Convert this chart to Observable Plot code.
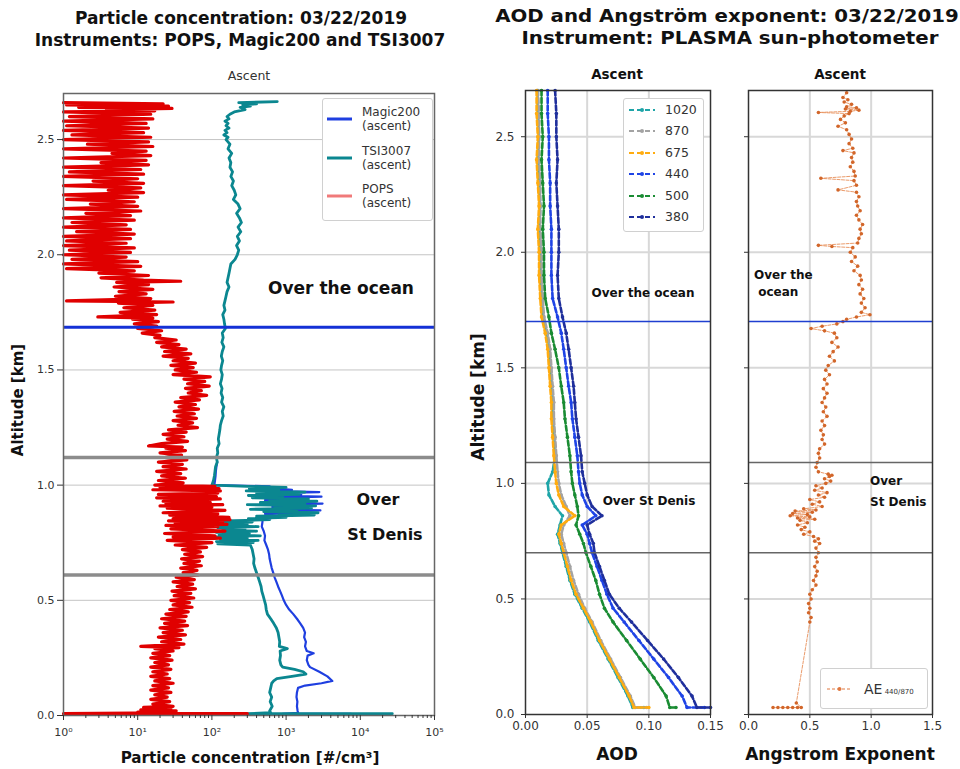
<!DOCTYPE html>
<html><head><meta charset="utf-8">
<script src="https://cdn.jsdelivr.net/npm/d3@7"></script>
<script src="https://cdn.jsdelivr.net/npm/@observablehq/plot@0.6"></script>
<style>
body{margin:0;background:#fff;}
#wrap{position:relative;width:960px;height:769px;overflow:hidden;background:#fff;}
#wrap svg{position:absolute;top:0;overflow:visible;}
.t{position:absolute;white-space:nowrap;z-index:5;line-height:1;font-family:"DejaVu Sans",sans-serif;color:#111;}
.lg{position:absolute;z-index:5;background:#fff;border:1px solid #d0d0d0;border-radius:3px;}
</style></head><body><div id="wrap"></div>
<script>
// ---------- axes / ticks ----------
const altitudeTicks = [0, 0.5, 1.0, 1.5, 2.0, 2.5];
const altitudeTickLabels = ["0.0","0.5","1.0","1.5","2.0","2.5"];
const concTicks = [1, 10, 100, 1000, 10000, 100000];
const concTickLabels = ["10⁰","10¹","10²","10³","10⁴","10⁵"];
const aodTicks = [0, 0.05, 0.10, 0.15];
const aodTickLabels = ["0.00","0.05","0.10","0.15"];
const aeTicks = [0, 0.5, 1.0, 1.5];
const aeTickLabels = ["0.0","0.5","1.0","1.5"];

// ---------- zone limits (km) ----------
const oceanLimitConc = [1.685];
const stDenisLimitsConc = [1.12, 0.61];
const oceanLimitAOD = [1.70];
const stDenisLimitsAOD = [1.09, 0.70];

// ---------- particle concentration profiles [altitude km, #/cm3] ----------
const popsProfile = [
[2.66,1.0],[2.655,22],[2.65,1.1],[2.645,26],[2.64,1.6],[2.635,29],[2.63,3.8],[2.625,17],[2.62,1.0],[2.61,15],
[2.60,1.2],[2.59,16],[2.58,1.0],[2.57,13],[2.56,1.1],[2.55,14],[2.54,1.0],[2.53,12],[2.52,1.3],[2.51,15],
[2.50,1.0],[2.49,14],[2.48,2.1],[2.47,16],[2.46,1.0],[2.45,13],[2.44,4.5],[2.43,15],[2.42,1.0],[2.41,13],
[2.40,3.2],[2.39,14],[2.38,1.0],[2.37,11],[2.36,1.2],[2.35,12],[2.34,1.0],[2.33,10],[2.32,2.5],[2.31,12],
[2.30,1.0],[2.29,11],[2.28,4.0],[2.27,12],[2.26,1.0],[2.25,10],[2.24,1.1],[2.23,9],[2.22,2.3],[2.21,10],
[2.20,1.0],[2.19,11],[2.18,2.0],[2.17,8],[2.16,1.0],[2.15,9],[2.14,1.3],[2.13,7],[2.12,1.0],[2.11,8],
[2.10,1.5],[2.09,9],[2.08,1.0],[2.07,8],[2.06,1.1],[2.05,7],[2.04,1.0],[2.03,9],[2.02,1.2],[2.01,8],
[2.00,1.0],[1.99,7],[1.98,1.3],[1.97,10],[1.96,1.0],[1.95,11],[1.94,1.1],[1.93,9],[1.92,3.0],[1.91,14],
[1.90,3.2],[1.89,12],[1.885,38],[1.88,5.2],[1.87,14],[1.86,4.8],[1.85,16],[1.84,5.6],[1.83,13],[1.82,5.0],
[1.81,15],[1.80,1.1],[1.795,30],[1.79,5.5],[1.78,16],[1.77,6.5],[1.76,17],[1.75,5.8],[1.74,18],[1.73,2.9],
[1.725,16],[1.72,8.5],[1.71,19],[1.70,9],[1.69,18],[1.68,10],[1.67,21],[1.66,11.5],[1.65,20],[1.64,17],
[1.63,33],[1.62,18],[1.61,36],[1.60,21],[1.59,45],[1.58,23],[1.57,52],[1.56,22],[1.55,48],[1.54,30],
[1.53,60],[1.52,28],[1.51,56],[1.50,32],[1.49,62],[1.48,30],[1.47,95],[1.46,42],[1.45,80],[1.44,47],
[1.43,92],[1.42,44],[1.41,72],[1.40,48],[1.39,85],[1.38,38],[1.37,68],[1.36,32],[1.35,60],[1.34,36],
[1.33,66],[1.32,31],[1.31,58],[1.30,34],[1.29,62],[1.28,30],[1.27,55],[1.26,35],[1.25,64],[1.24,26],
[1.23,45],[1.22,22],[1.21,42],[1.20,25],[1.19,47],[1.18,21],[1.17,14],[1.165,40],[1.16,24],[1.15,44],
[1.14,20],[1.13,39],[1.12,23],[1.11,46],[1.10,19],[1.09,40],[1.08,22],[1.07,45],[1.06,18],[1.05,38],
[1.04,21],[1.03,44],[1.02,19],[1.01,41],[1.00,17],[0.995,110],[0.99,20],[0.985,125],[0.98,16],[0.975,130],
[0.97,60],[0.965,120],[0.96,19],[0.955,75],[0.95,115],[0.945,18],[0.94,130],[0.93,22],[0.925,95],[0.92,24],
[0.915,140],[0.91,20],[0.905,100],[0.90,25],[0.89,150],[0.88,22],[0.875,120],[0.87,27],[0.86,170],[0.855,30],
[0.85,175],[0.845,26],[0.84,140],[0.835,32],[0.83,160],[0.825,24],[0.82,120],[0.81,28],[0.80,150],[0.79,23],
[0.78,110],[0.775,30],[0.77,130],[0.76,25],[0.75,100],[0.74,32],[0.73,85],[0.72,40],[0.71,70],[0.70,43],
[0.69,75],[0.68,39],[0.67,68],[0.66,42],[0.65,72],[0.64,38],[0.63,63],[0.62,41],[0.61,66],[0.60,33],
[0.59,58],[0.58,30],[0.57,55],[0.56,34],[0.55,60],[0.54,29],[0.53,52],[0.52,31],[0.51,57],[0.50,28],
[0.49,50],[0.48,30],[0.47,54],[0.46,27],[0.45,48],[0.44,24],[0.43,45],[0.42,21],[0.41,43],[0.40,23],
[0.39,47],[0.38,20],[0.37,40],[0.36,22],[0.35,44],[0.34,19],[0.33,38],[0.32,21],[0.31,42],[0.30,11],
[0.295,36],[0.29,17],[0.28,30],[0.27,16],[0.26,27],[0.25,15],[0.24,29],[0.23,17],[0.22,26],[0.21,15],
[0.20,28],[0.19,16],[0.18,25],[0.17,15],[0.16,27],[0.15,17],[0.14,30],[0.13,16],[0.12,26],[0.11,15],
[0.10,28],[0.09,17],[0.08,25],[0.07,15],[0.06,27],[0.05,16],[0.04,30],[0.035,12],[0.03,28],[0.025,11],
[0.02,33],[0.015,10],[0.012,26],[0.008,1],[0.008,300]
];
const tsiProfile = [
[2.665,760],[2.66,230],[2.655,400],[2.65,260],[2.645,330],[2.64,240],[2.63,280],[2.62,200],[2.61,175],[2.60,160],
[2.59,170],[2.58,150],[2.57,165],[2.56,155],[2.55,170],[2.54,150],[2.53,160],[2.52,145],[2.51,165],[2.50,155],
[2.48,175],[2.46,165],[2.44,185],[2.42,170],[2.40,180],[2.38,175],[2.36,190],[2.34,180],[2.32,195],[2.30,185],
[2.28,200],[2.26,210],[2.24,195],[2.22,225],[2.20,240],[2.18,215],[2.16,235],[2.14,250],[2.12,225],[2.10,245],
[2.08,220],[2.06,235],[2.04,215],[2.02,230],[2.00,220],[1.98,205],[1.96,180],[1.94,175],[1.92,170],[1.90,165],
[1.88,160],[1.86,170],[1.84,160],[1.82,155],[1.80,150],[1.78,145],[1.76,150],[1.74,140],[1.72,145],[1.70,148],
[1.68,152],[1.66,138],[1.64,142],[1.62,136],[1.60,145],[1.58,138],[1.56,134],[1.54,140],[1.52,135],[1.50,132],
[1.48,138],[1.46,135],[1.44,130],[1.42,137],[1.40,133],[1.38,140],[1.36,135],[1.34,145],[1.32,138],[1.30,142],
[1.28,135],[1.26,130],[1.24,128],[1.22,125],[1.20,122],[1.18,125],[1.16,118],[1.14,120],[1.12,115],[1.10,118],
[1.08,112],[1.06,110],[1.04,108],[1.02,105],[1.00,100],[0.995,300],[0.99,1000],[0.985,320],[0.98,800],[0.975,290],
[0.97,1800],[0.965,400],[0.96,1500],[0.955,310],[0.95,900],[0.945,350],[0.94,2000],[0.935,600],[0.93,2600],[0.925,450],
[0.92,1800],[0.915,300],[0.91,2500],[0.905,700],[0.90,2200],[0.895,330],[0.89,1400],[0.885,500],[0.88,2700],[0.875,800],
[0.87,2400],[0.865,400],[0.86,1000],[0.855,310],[0.85,600],[0.845,150],[0.84,350],[0.835,110],[0.83,300],[0.825,130],
[0.82,420],[0.815,120],[0.81,280],[0.805,140],[0.80,400],[0.795,115],[0.79,320],[0.785,125],[0.78,450],[0.775,110],
[0.77,300],[0.765,130],[0.76,420],[0.755,115],[0.75,360],[0.745,120],[0.74,330],[0.73,340],[0.72,350],[0.70,360],
[0.68,370],[0.66,365],[0.64,380],[0.62,400],[0.60,420],[0.58,440],[0.56,460],[0.54,470],[0.52,490],[0.50,510],
[0.48,530],[0.46,540],[0.44,560],[0.42,620],[0.40,680],[0.38,740],[0.36,780],[0.34,800],[0.32,820],[0.30,810],
[0.29,1040],[0.28,830],[0.26,840],[0.24,820],[0.22,850],[0.21,900],[0.20,1300],[0.19,1700],[0.18,1850],[0.17,1200],
[0.16,750],[0.15,680],[0.14,640],[0.12,620],[0.10,600],[0.08,640],[0.06,610],[0.04,650],[0.02,600],[0.012,620],
[0.008,300],[0.008,27000]
];
const magicProfile = [
[1.10,118],[1.08,115],[1.06,113],[1.04,112],[1.02,110],[1.00,108],[0.995,600],[0.99,500],[0.98,1200],[0.975,520],
[0.97,2800],[0.965,600],[0.96,1600],[0.955,540],[0.95,3000],[0.945,700],[0.94,1800],[0.935,520],[0.93,2500],[0.925,800],
[0.92,3100],[0.915,560],[0.91,2000],[0.905,650],[0.90,1200],[0.895,550],[0.89,2900],[0.885,700],[0.88,1500],[0.875,520],
[0.87,900],[0.865,500],[0.86,700],[0.85,480],[0.84,480],[0.82,470],[0.80,500],[0.78,520],[0.76,510],[0.74,540],
[0.72,570],[0.70,590],[0.68,600],[0.66,620],[0.64,640],[0.62,670],[0.60,700],[0.58,740],[0.56,780],[0.54,830],
[0.52,880],[0.50,930],[0.48,1000],[0.46,1100],[0.44,1250],[0.42,1400],[0.40,1550],[0.38,1700],[0.36,1800],[0.34,1750],
[0.32,1850],[0.30,1800],[0.28,1900],[0.27,2350],[0.26,1950],[0.24,1900],[0.22,2000],[0.21,2100],[0.19,2800],[0.17,3600],
[0.15,4200],[0.14,3000],[0.13,1800],[0.12,1450],[0.10,1400],[0.08,1380],[0.06,1420],[0.04,1400],[0.02,1430],[0.012,1450],
[0.007,900],[0.007,7500]
];

// ---------- AOD profiles (PLASMA) ----------
const wavelengths = ["1020","870","675","440","500","380"];
const wavelengthColors = ["#1fa5a8","#a3a3a3","#ffac10","#1f44e6","#1a8c33","#1f2f9c"];
const aodAlt = [2.70,2.60,2.50,2.40,2.30,2.20,2.10,2.00,1.90,1.80,1.72,1.65,1.58,1.50,1.42,1.35,1.28,1.20,1.12,1.05,1.00,0.95,0.90,0.86,0.82,0.78,0.74,0.70,0.64,0.58,0.52,0.46,0.40,0.32,0.24,0.16,0.08,0.03,0.03];
const aod1020 = [0.010,0.010,0.011,0.010,0.011,0.012,0.011,0.012,0.012,0.013,0.014,0.017,0.019,0.020,0.021,0.022,0.022,0.023,0.024,0.022,0.018,0.019,0.024,0.030,0.028,0.026,0.028,0.030,0.033,0.036,0.040,0.046,0.052,0.059,0.067,0.075,0.083,0.087,0.096];
const aod870 = [0.010,0.011,0.011,0.011,0.012,0.012,0.012,0.013,0.013,0.014,0.015,0.018,0.020,0.021,0.022,0.023,0.023,0.024,0.025,0.026,0.027,0.029,0.033,0.036,0.031,0.029,0.031,0.033,0.036,0.039,0.043,0.048,0.054,0.061,0.069,0.077,0.085,0.089,0.098];
const aod675 = [0.009,0.009,0.010,0.009,0.010,0.011,0.010,0.011,0.011,0.012,0.013,0.016,0.018,0.019,0.020,0.021,0.021,0.022,0.023,0.024,0.025,0.027,0.031,0.040,0.029,0.027,0.029,0.031,0.034,0.037,0.041,0.047,0.053,0.060,0.068,0.076,0.084,0.088,0.100];
const aod440 = [0.018,0.018,0.019,0.019,0.020,0.020,0.021,0.021,0.021,0.022,0.026,0.029,0.031,0.033,0.035,0.037,0.038,0.040,0.042,0.043,0.044,0.046,0.050,0.057,0.046,0.050,0.052,0.054,0.058,0.062,0.066,0.071,0.080,0.092,0.104,0.116,0.127,0.131,0.145];
const aod500 = [0.013,0.013,0.014,0.013,0.014,0.015,0.014,0.015,0.015,0.016,0.019,0.021,0.024,0.027,0.029,0.031,0.032,0.034,0.036,0.037,0.038,0.040,0.042,0.043,0.041,0.044,0.047,0.049,0.053,0.057,0.060,0.064,0.071,0.082,0.093,0.104,0.114,0.117,0.122];
const aod380 = [0.024,0.025,0.025,0.026,0.025,0.026,0.027,0.027,0.026,0.027,0.030,0.033,0.035,0.037,0.039,0.040,0.041,0.043,0.045,0.046,0.048,0.050,0.054,0.062,0.050,0.052,0.055,0.056,0.060,0.064,0.068,0.076,0.086,0.099,0.112,0.124,0.135,0.139,0.150];
const aodSeries = [aod1020, aod870, aod675, aod440, aod500, aod380];

// ---------- Angstrom exponent 440/870 [altitude km, AE] ----------
const aeProfile = [
[2.69,0.80],[2.67,0.77],[2.66,0.81],[2.65,0.78],[2.64,0.84],[2.63,0.80],[2.625,0.88],[2.62,0.79],[2.615,0.90],[2.61,0.83],
[2.605,0.57],[2.60,0.82],[2.59,0.78],[2.575,0.75],[2.56,0.79],[2.545,0.73],[2.53,0.80],[2.51,0.82],[2.49,0.84],[2.47,0.82],
[2.45,0.85],[2.44,0.77],[2.43,0.86],[2.41,0.84],[2.39,0.85],[2.37,0.83],[2.35,0.86],[2.33,0.87],[2.32,0.59],[2.31,0.86],
[2.29,0.88],[2.27,0.73],[2.26,0.88],[2.24,0.90],[2.22,0.88],[2.20,0.89],[2.18,0.91],[2.16,0.88],[2.14,0.90],[2.12,0.93],
[2.10,0.91],[2.08,0.92],[2.06,0.90],[2.04,0.89],[2.03,0.57],[2.025,0.68],[2.02,0.85],[2.00,0.83],[1.98,0.87],[1.96,0.84],
[1.94,0.89],[1.92,0.86],[1.90,0.91],[1.88,0.92],[1.86,0.90],[1.84,0.93],[1.82,0.91],[1.80,0.94],[1.78,0.92],[1.76,0.95],
[1.74,0.92],[1.73,0.99],[1.72,0.88],[1.71,0.80],[1.70,0.77],[1.69,0.72],[1.68,0.60],[1.67,0.51],[1.66,0.62],[1.65,0.70],
[1.63,0.72],[1.61,0.68],[1.59,0.73],[1.57,0.69],[1.55,0.66],[1.53,0.70],[1.51,0.65],[1.49,0.63],[1.47,0.66],[1.45,0.62],
[1.43,0.64],[1.41,0.61],[1.39,0.64],[1.37,0.62],[1.35,0.60],[1.33,0.63],[1.31,0.61],[1.29,0.64],[1.27,0.60],[1.25,0.62],
[1.23,0.59],[1.21,0.61],[1.19,0.60],[1.17,0.62],[1.15,0.58],[1.13,0.57],[1.11,0.58],[1.09,0.56],[1.07,0.55],[1.05,0.57],
[1.04,0.65],[1.035,0.68],[1.03,0.66],[1.02,0.62],[1.01,0.67],[1.00,0.63],[0.99,0.55],[0.98,0.60],[0.97,0.54],[0.96,0.64],
[0.95,0.57],[0.94,0.62],[0.93,0.50],[0.92,0.58],[0.91,0.52],[0.90,0.60],[0.89,0.45],[0.885,0.55],[0.88,0.38],[0.875,0.52],
[0.87,0.36],[0.865,0.48],[0.86,0.34],[0.855,0.50],[0.85,0.40],[0.845,0.54],[0.84,0.42],[0.83,0.48],[0.82,0.40],[0.81,0.46],
[0.80,0.43],[0.79,0.50],[0.78,0.45],[0.77,0.53],[0.76,0.57],[0.75,0.54],[0.74,0.58],[0.72,0.55],[0.70,0.57],[0.68,0.55],
[0.66,0.56],[0.64,0.54],[0.62,0.56],[0.60,0.55],[0.58,0.53],[0.56,0.55],[0.54,0.52],[0.52,0.50],[0.50,0.51],[0.48,0.49],
[0.46,0.50],[0.44,0.49],[0.42,0.51],[0.40,0.50],[0.05,0.39],[0.03,0.43],[0.03,0.40],[0.03,0.36],[0.03,0.32],[0.03,0.28],
[0.03,0.24],[0.03,0.20]
];

// ---------- build ----------
const wrap = document.getElementById("wrap");
const rows = arr => arr.map(([alt, v]) => ({alt, v}));
const lbl = (ticks, labels) => d => labels[ticks.findIndex(t => Math.abs(t - d) < 1e-9)];
const minorConc = concTicks.slice(0, -1).flatMap(d => [2,3,4,5,6,7,8,9].map(k => k * d));
const baseStyle = {fontFamily: "DejaVu Sans", color: "#333", background: "transparent", overflow: "visible"};

const leftPlot = Plot.plot({
  width: 480, height: 769, marginLeft: 63, marginRight: 46, marginTop: 93, marginBottom: 54,
  x: {type: "log", domain: [1, 1e5], label: null},
  y: {domain: [0, 2.7], label: null},
  style: {...baseStyle, fontSize: "11px"},
  marks: [
    Plot.gridY(altitudeTicks.slice(1), {stroke: "#c4c4c4", strokeOpacity: 1}),
    Plot.line(rows(magicProfile), {x: "v", y: "alt", stroke: "#1f3fe0", strokeWidth: 2.2}),
    Plot.line(rows(tsiProfile), {x: "v", y: "alt", stroke: "#0b8790", strokeWidth: 2.8}),
    Plot.line(rows(popsProfile), {x: "v", y: "alt", stroke: "#e00000", strokeWidth: 3.2, strokeLinejoin: "round"}),
    Plot.ruleY(stDenisLimitsConc, {stroke: "#8c8c8c", strokeWidth: 3.5}),
    Plot.ruleY(oceanLimitConc, {stroke: "#1431d6", strokeWidth: 3}),
    Plot.frame({stroke: "#666", strokeWidth: 1.5}),
    Plot.axisY({ticks: altitudeTicks, tickFormat: lbl(altitudeTicks, altitudeTickLabels), tickSize: 6, tickPadding: 3, label: null}),
    Plot.axisX({ticks: concTicks, tickFormat: lbl(concTicks, concTickLabels), tickSize: 5, tickPadding: 8, label: null}),
    Plot.axisX({ticks: minorConc, tickFormat: () => "", tickSize: 3, label: null})
  ]
});
leftPlot.style.left = "0px";
wrap.appendChild(leftPlot);

const aodRows = aodSeries.map(s => s.map((v, i) => ({alt: aodAlt[i], v})));
const midMarks = [
  Plot.gridY(altitudeTicks.slice(1), {stroke: "#d8d8d8", strokeOpacity: 1, strokeWidth: 2}),
  Plot.gridX(aodTicks.slice(1, -1), {stroke: "#d8d8d8", strokeOpacity: 1, strokeWidth: 2})
];
aodRows.forEach((r, k) => {
  midMarks.push(Plot.line(r, {x: "v", y: "alt", stroke: wavelengthColors[k], strokeWidth: 2.6, strokeDasharray: "5,2.5"}));
  midMarks.push(Plot.dot(r, {x: "v", y: "alt", fill: wavelengthColors[k], r: 1.8}));
});
midMarks.push(
  Plot.ruleY(stDenisLimitsAOD, {stroke: "#666", strokeWidth: 1.5}),
  Plot.ruleY(oceanLimitAOD, {stroke: "#1f3fd0", strokeWidth: 1.5}),
  Plot.frame({stroke: "#333", strokeWidth: 1.5}),
  Plot.axisY({ticks: altitudeTicks, tickFormat: lbl(altitudeTicks, altitudeTickLabels), tickSize: 4, tickPadding: 7, label: null}),
  Plot.axisX({ticks: aodTicks, tickFormat: lbl(aodTicks, aodTickLabels), tickSize: 4, tickPadding: 3, label: null})
);
const midPlot = Plot.plot({
  width: 250, height: 769, marginLeft: 45, marginRight: 20, marginTop: 90, marginBottom: 55,
  x: {domain: [0, 0.15], label: null},
  y: {domain: [0, 2.7], label: null},
  style: {...baseStyle, fontSize: "12px"},
  marks: midMarks
});
midPlot.style.left = "480px";
wrap.appendChild(midPlot);

const rightPlot = Plot.plot({
  width: 240, height: 769, marginLeft: 28, marginRight: 28, marginTop: 90, marginBottom: 55,
  x: {domain: [0, 1.5], label: null},
  y: {domain: [0, 2.7], label: null},
  style: {...baseStyle, fontSize: "12px"},
  marks: [
    Plot.gridY(altitudeTicks.slice(1), {stroke: "#d8d8d8", strokeOpacity: 1, strokeWidth: 2}),
    Plot.gridX(aeTicks.slice(1, -1), {stroke: "#d8d8d8", strokeOpacity: 1, strokeWidth: 2}),
    Plot.line(rows(aeProfile), {x: "v", y: "alt", stroke: "#e8905a", strokeWidth: 0.9, strokeDasharray: "3,1.5"}),
    Plot.dot(rows(aeProfile), {x: "v", y: "alt", fill: "#d2662a", r: 1.8}),
    Plot.ruleY(stDenisLimitsAOD, {stroke: "#666", strokeWidth: 1.5}),
    Plot.ruleY(oceanLimitAOD, {stroke: "#1f3fd0", strokeWidth: 1.5}),
    Plot.frame({stroke: "#333", strokeWidth: 1.5}),
    Plot.axisY({ticks: altitudeTicks, tickFormat: () => "", tickSize: 4, label: null}),
    Plot.axisX({ticks: aeTicks, tickFormat: lbl(aeTicks, aeTickLabels), tickSize: 4, tickPadding: 3, label: null})
  ]
});
rightPlot.style.left = "720px";
wrap.appendChild(rightPlot);

// ---------- texts ----------
function txt(s, x, y, o = {}) {
  const d = document.createElement("div");
  d.className = "t";
  d.innerHTML = s;
  d.style.left = x + "px"; d.style.top = y + "px";
  d.style.fontSize = (o.size || 13) + "px";
  d.style.fontWeight = o.bold ? "bold" : "normal";
  if (o.color) d.style.color = o.color;
  const ax = o.align === "left" ? "0" : "-50%";
  d.style.transform = `translate(${ax},-50%)` + (o.rot ? " rotate(-90deg)" : "") + (o.sx ? ` scaleX(${o.sx})` : "");
  wrap.appendChild(d);
  return d;
}
txt("Particle concentration: 03/22/2019", 241, 18, {size: 17, bold: true});
txt("Instruments: POPS, Magic200 and TSI3007", 240, 40, {size: 17, bold: true});
txt("AOD and Angström exponent: 03/22/2019", 727, 17, {size: 17.5, bold: true, sx: 1.13});
txt("Instrument: PLASMA sun-photometer", 730, 39, {size: 17.5, bold: true, sx: 1.13});
txt("Ascent", 249, 76, {size: 12.5, color: "#333"});
txt("Ascent", 617, 75, {size: 13.5, bold: true});
txt("Ascent", 840, 75, {size: 13.5, bold: true});
txt("Altitude [km]", 18, 400, {size: 15, bold: true, rot: true});
txt("Altitude [km]", 478, 397, {size: 17, bold: true, rot: true});
txt("Particle concentration [#/cm³]", 250, 759, {size: 15.2, bold: true});
txt("AOD", 617, 754, {size: 17, bold: true});
txt("Angstrom Exponent", 840, 754, {size: 17, bold: true});
txt("Over the ocean", 341, 288, {size: 17, bold: true});
txt("Over", 378, 500, {size: 16, bold: true});
txt("St Denis", 385, 535, {size: 16, bold: true});
txt("Over the ocean", 643, 293, {size: 12, bold: true});
txt("Over St Denis", 649, 501, {size: 12, bold: true});
txt("Over the", 754, 275, {size: 12, bold: true, align: "left"});
txt("&nbsp;ocean", 754, 292, {size: 12, bold: true, align: "left"});
txt("Over", 870, 481, {size: 12, bold: true, align: "left"});
txt("St Denis", 870, 502, {size: 12, bold: true, align: "left"});

// ---------- legends ----------
function box(x, y, w, h) {
  const d = document.createElement("div");
  d.className = "lg";
  d.style.left = x + "px"; d.style.top = y + "px"; d.style.width = w + "px"; d.style.height = h + "px";
  wrap.appendChild(d);
}
function sample(x1, x2, y, color, width, dash, dot) {
  const ns = "http://www.w3.org/2000/svg";
  const s = document.createElementNS(ns, "svg");
  s.setAttribute("width", x2 - x1 + 6); s.setAttribute("height", 10);
  s.style.position = "absolute"; s.style.left = (x1 - 3) + "px"; s.style.top = (y - 5) + "px"; s.style.zIndex = 6;
  const l = document.createElementNS(ns, "line");
  l.setAttribute("x1", 3); l.setAttribute("x2", x2 - x1 + 3); l.setAttribute("y1", 5); l.setAttribute("y2", 5);
  l.setAttribute("stroke", color); l.setAttribute("stroke-width", width);
  if (dash) l.setAttribute("stroke-dasharray", dash);
  s.appendChild(l);
  if (dot) {
    const c = document.createElementNS(ns, "circle");
    c.setAttribute("cx", (x2 - x1) / 2 + 3); c.setAttribute("cy", 5); c.setAttribute("r", 2); c.setAttribute("fill", color);
    s.appendChild(c);
  }
  wrap.appendChild(s);
}
const instrumentNames = ["Magic200", "TSI3007", "POPS"];
const instrumentColors = ["#1f3fe0", "#0b8790", "#f07a7a"];
box(322, 98, 109, 121);
instrumentNames.forEach((n, i) => {
  const y = 119 + i * 38.5;
  sample(327, 352, y, instrumentColors[i], 3);
  txt(n, 362, y - 7, {size: 12, align: "left", color: "#333"});
  txt("(ascent)", 362, y + 7, {size: 12, align: "left", color: "#333"});
});
box(623, 98, 79, 132);
wavelengths.forEach((w, i) => {
  const y = 110 + i * 21.4;
  sample(629, 655, y, wavelengthColors[i], 2.2, "5,3", true);
  txt(w, 665, y, {size: 12.5, align: "left", color: "#333"});
});
box(820, 668, 106, 39);
sample(827, 852, 689, "#e07840", 1, "3,2", true);
txt('AE<span style="font-size:7px"> 440/870</span>', 864, 689, {size: 14, align: "left", color: "#333"});
</script></body></html>
